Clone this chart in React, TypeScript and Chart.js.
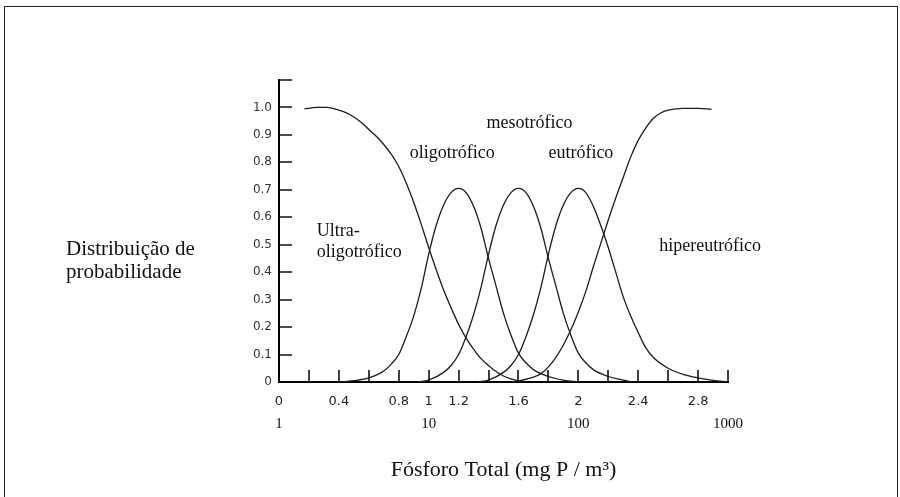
import React, { useEffect, useRef } from 'react';
import { Chart, registerables } from 'chart.js';

Chart.register(...registerables);

// ---- data (x = log10 of total phosphorus, y = probability) ----
const ULTRA_X = [0.17, 0.25, 0.32, 0.40, 0.45, 0.50, 0.55, 0.60, 0.65, 0.70, 0.75, 0.80, 0.85, 0.90, 0.95, 1.00, 1.05, 1.10, 1.15, 1.20, 1.25, 1.30, 1.35, 1.40, 1.45, 1.50, 1.55, 1.60, 1.65];
const ULTRA_Y = [0.995, 1.0, 1.0, 0.99, 0.98, 0.965, 0.945, 0.92, 0.895, 0.865, 0.83, 0.785, 0.725, 0.655, 0.575, 0.49, 0.41, 0.335, 0.27, 0.21, 0.16, 0.12, 0.085, 0.06, 0.038, 0.022, 0.011, 0.004, 0.0];

const OLIGO_X = [0.40, 0.50, 0.60, 0.70, 0.75, 0.80, 0.85, 0.90, 0.95, 1.00, 1.05, 1.10, 1.15, 1.20, 1.25, 1.30, 1.35, 1.40, 1.45, 1.50, 1.55, 1.60, 1.65, 1.70, 1.80, 1.90, 2.00];
const OLIGO_Y = [0.0, 0.005, 0.015, 0.04, 0.065, 0.10, 0.165, 0.24, 0.34, 0.465, 0.57, 0.645, 0.69, 0.705, 0.69, 0.64, 0.56, 0.45, 0.35, 0.25, 0.17, 0.105, 0.07, 0.045, 0.02, 0.007, 0.0];

const MESO_X = [0.93, 1.00, 1.10, 1.15, 1.20, 1.25, 1.30, 1.35, 1.40, 1.45, 1.50, 1.55, 1.60, 1.65, 1.70, 1.75, 1.80, 1.85, 1.90, 1.95, 2.00, 2.05, 2.10, 2.20, 2.30, 2.36];
const MESO_Y = [0.0, 0.007, 0.035, 0.06, 0.10, 0.165, 0.245, 0.345, 0.465, 0.57, 0.645, 0.69, 0.705, 0.69, 0.64, 0.56, 0.45, 0.35, 0.25, 0.17, 0.105, 0.07, 0.045, 0.02, 0.007, 0.0];

const EU_X = [1.33, 1.40, 1.50, 1.55, 1.60, 1.65, 1.70, 1.75, 1.80, 1.85, 1.90, 1.95, 2.00, 2.05, 2.10, 2.15, 2.20, 2.25, 2.30, 2.35, 2.40, 2.45, 2.50, 2.60, 2.70, 2.80, 2.90, 3.00];
const EU_Y = [0.0, 0.007, 0.035, 0.06, 0.10, 0.165, 0.245, 0.345, 0.465, 0.57, 0.645, 0.69, 0.705, 0.69, 0.64, 0.57, 0.49, 0.40, 0.31, 0.24, 0.18, 0.125, 0.09, 0.05, 0.028, 0.015, 0.006, 0.0];

const HIPER_X = [1.55, 1.60, 1.65, 1.70, 1.75, 1.80, 1.85, 1.90, 1.95, 2.00, 2.05, 2.10, 2.15, 2.20, 2.25, 2.30, 2.35, 2.40, 2.45, 2.50, 2.55, 2.60, 2.70, 2.80, 2.89];
const HIPER_Y = [0.0, 0.004, 0.01, 0.018, 0.03, 0.055, 0.09, 0.135, 0.19, 0.255, 0.33, 0.42, 0.505, 0.59, 0.67, 0.745, 0.82, 0.88, 0.925, 0.96, 0.98, 0.99, 0.997, 0.997, 0.993];

// ---- tick labels ----
const X_TICK_VALUES = [0, 0.4, 0.8, 1, 1.2, 1.6, 2, 2.4, 2.8];
const X_TICK_LABELS = ['0', '0.4', '0.8', '1', '1.2', '1.6', '2', '2.4', '2.8'];
const X2_TICK_LABELS = ['1', '10', '100', '1000'];
const Y_TICK_LABELS = ['0', '0.1', '0.2', '0.3', '0.4', '0.5', '0.6', '0.7', '0.8', '0.9', '1.0'];

// ---- texts ----
const CURVE_LABELS = ['Ultra-', 'oligotrófico', 'oligotrófico', 'mesotrófico', 'eutrófico', 'hipereutrófico'];
const Y_TITLE_LINES = ['Distribuição de', 'probabilidade'];
const X_TITLE = 'Fósforo Total (mg P / m³)';

// label anchors in data units (left edge, baseline)
const LABEL_ANCHORS: [number, number][] = [
  [0.253, 0.531],
  [0.253, 0.455],
  [0.873, 0.815],
  [1.387, 0.924],
  [1.80, 0.815],
  [2.54, 0.476],
];

const SERIF = '"Liberation Serif", "Times New Roman", serif';
const SANS = '"DejaVu Sans", Verdana, sans-serif';

function zip(xs: number[], ys: number[]) {
  return xs.map((x, i) => ({ x, y: ys[i] }));
}

const overlayPlugin = {
  id: 'overlay',
  afterDraw(chart: any) {
    const ctx = chart.ctx;
    const xs = chart.scales.x;
    const ys = chart.scales.y;
    const { left, bottom } = chart.chartArea;
    ctx.save();
    // inward tick marks
    ctx.strokeStyle = '#111';
    ctx.lineWidth = 1.6;
    ctx.beginPath();
    xs.ticks.forEach((t: any) => {
      if (t.value <= 0.0001) return;
      const px = Math.round(xs.getPixelForValue(t.value));
      ctx.moveTo(px, bottom);
      ctx.lineTo(px, bottom - 12);
    });
    ys.ticks.forEach((t: any) => {
      if (t.value <= 0.0001) return;
      const py = Math.round(ys.getPixelForValue(t.value));
      ctx.moveTo(left, py);
      ctx.lineTo(left + 13, py);
    });
    ctx.stroke();
    // curve labels
    ctx.fillStyle = '#111';
    ctx.textAlign = 'left';
    ctx.textBaseline = 'alphabetic';
    ctx.font = `18px ${SERIF}`;
    CURVE_LABELS.forEach((txt, i) => {
      const [lx, ly] = LABEL_ANCHORS[i];
      ctx.fillText(txt, xs.getPixelForValue(lx), ys.getPixelForValue(ly));
    });
    // left axis title
    ctx.font = `21px ${SERIF}`;
    Y_TITLE_LINES.forEach((t, i) => {
      ctx.fillText(t, 66, 255 + i * 23);
    });
    ctx.restore();
  },
};

export default function App() {
  const canvasRef = useRef<HTMLCanvasElement | null>(null);

  useEffect(() => {
    const canvas = canvasRef.current;
    if (!canvas) return;
    const lineStyle = {
      borderColor: '#1c1c1c',
      borderWidth: 1.3,
      pointRadius: 0,
      showLine: true,
      fill: false,
      cubicInterpolationMode: 'monotone' as const,
    };
    const chart = new Chart(canvas, {
      type: 'scatter',
      data: {
        datasets: [
          { label: 'Ultra-oligotrófico', data: zip(ULTRA_X, ULTRA_Y), ...lineStyle },
          { label: 'oligotrófico', data: zip(OLIGO_X, OLIGO_Y), ...lineStyle },
          { label: 'mesotrófico', data: zip(MESO_X, MESO_Y), ...lineStyle },
          { label: 'eutrófico', data: zip(EU_X, EU_Y), ...lineStyle },
          { label: 'hipereutrófico', data: zip(HIPER_X, HIPER_Y), ...lineStyle },
        ],
      },
      options: {
        responsive: false,
        maintainAspectRatio: false,
        animation: false,
        events: [],
        layout: { padding: { left: 229, right: 172, top: 80, bottom: 0 } },
        plugins: { legend: { display: false }, tooltip: { enabled: false } },
        scales: {
          x: {
            type: 'linear',
            position: 'bottom',
            weight: 0,
            min: 0,
            max: 3,
            grid: { display: false, drawTicks: false },
            border: { display: true, color: '#000', width: 2 },
            ticks: {
              stepSize: 0.2,
              autoSkip: false,
              maxRotation: 0,
              padding: 12,
              color: '#222',
              font: { family: SANS, size: 13 },
              callback: (v: any) => {
                const i = X_TICK_VALUES.findIndex((t) => Math.abs(t - Number(v)) < 1e-6);
                return i >= 0 ? X_TICK_LABELS[i] : '';
              },
            },
            afterFit: (s: any) => { s.height = 30; },
          },
          x2: {
            type: 'linear',
            position: 'bottom',
            weight: 1,
            min: 0,
            max: 3,
            grid: { display: false, drawTicks: false },
            border: { display: false },
            ticks: {
              stepSize: 1,
              autoSkip: false,
              maxRotation: 0,
              padding: 3,
              color: '#111',
              font: { family: SERIF, size: 15 },
              callback: (v: any, i: number) => X2_TICK_LABELS[i] ?? '',
            },
            title: {
              display: true,
              text: X_TITLE,
              color: '#111',
              font: { family: SERIF, size: 22 },
              padding: { top: 0, bottom: 14 },
            },
            afterFit: (s: any) => { s.height = 85; },
          },
          y: {
            type: 'linear',
            position: 'left',
            min: 0,
            max: 1.1,
            grid: { display: false, drawTicks: false },
            border: { display: true, color: '#000', width: 2 },
            ticks: {
              stepSize: 0.1,
              autoSkip: false,
              padding: 7,
              color: '#333',
              font: { family: SANS, size: 12 },
              callback: (v: any, i: number) => Y_TICK_LABELS[i] ?? '',
            },
            afterFit: (s: any) => { s.width = 50; },
          },
        },
      },
      plugins: [overlayPlugin],
    });
    return () => chart.destroy();
  }, []);

  return (
    <div style={{ position: 'absolute', left: 0, top: 0, width: 900, height: 497, overflow: 'hidden', background: '#fff' }}>
      <div style={{ position: 'absolute', left: 4, top: 6, width: 894, height: 540, border: '1px solid #222', boxSizing: 'border-box' }} />
      <canvas ref={canvasRef} width={900} height={497} style={{ position: 'absolute', left: 0, top: 0, width: 900, height: 497 }} />
    </div>
  );
}
